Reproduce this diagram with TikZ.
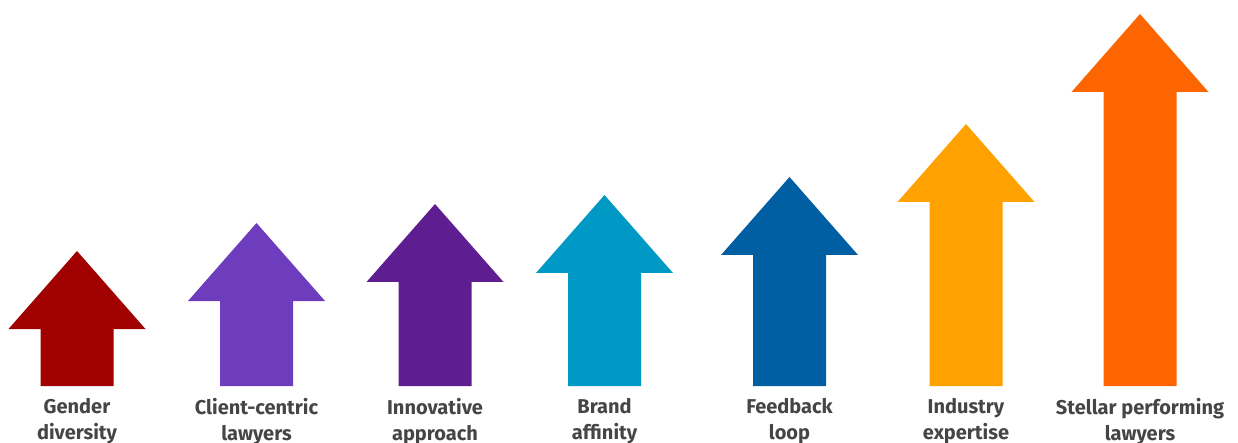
\documentclass[tikz,border=0pt]{standalone}
\usepackage{fontspec}
\setmainfont{Fira Sans}
\usepackage{tikz}
\definecolor{cGender}{HTML}{A00000}
\definecolor{cClient}{HTML}{6E3DBE}
\definecolor{cInnov}{HTML}{5E1E91}
\definecolor{cBrand}{HTML}{0099C6}
\definecolor{cFeed}{HTML}{005EA2}
\definecolor{cIndus}{HTML}{FFA100}
\definecolor{cStellar}{HTML}{FC6500}
\definecolor{txtgray}{HTML}{454545}
\tikzset{
  label/.style = {align=center, anchor=north, inner sep=0pt, text=txtgray,
                  font=\fontsize{20}{26}\selectfont\bfseries},
}

\begin{document}
\begin{tikzpicture}[x=1pt, y=-1pt]
  \useasboundingbox (0,0) rectangle (1238,443);

  %%%% arrows: centre / tip height / colour / label name / text
  \foreach \cx/\tip/\col/\name/\txt in {
      77/251/cGender/gender/{Gender\\diversity},
      256.5/223/cClient/client/{Client-centric\\lawyers},
      435/204/cInnov/innov/{Innovative\\approach},
      604.5/195/cBrand/brand/{Brand\\affinity},
      789.5/177/cFeed/feed/{Feedback\\loop},
      966/124/cIndus/indus/{Industry\\expertise},
      1140/14/cStellar/stellar/{Stellar performing\\lawyers}}
  {
    \fill[\col] (\cx-36.5,386) -- (\cx-36.5,\tip+78) -- (\cx-68.5,\tip+78)
      -- (\cx,\tip) -- (\cx+68.5,\tip+78) -- (\cx+36.5,\tip+78)
      -- (\cx+36.5,386) -- cycle;
    \node[label] (\name) at (\cx,398.5) {\txt};
  }
\end{tikzpicture}
\end{document}
